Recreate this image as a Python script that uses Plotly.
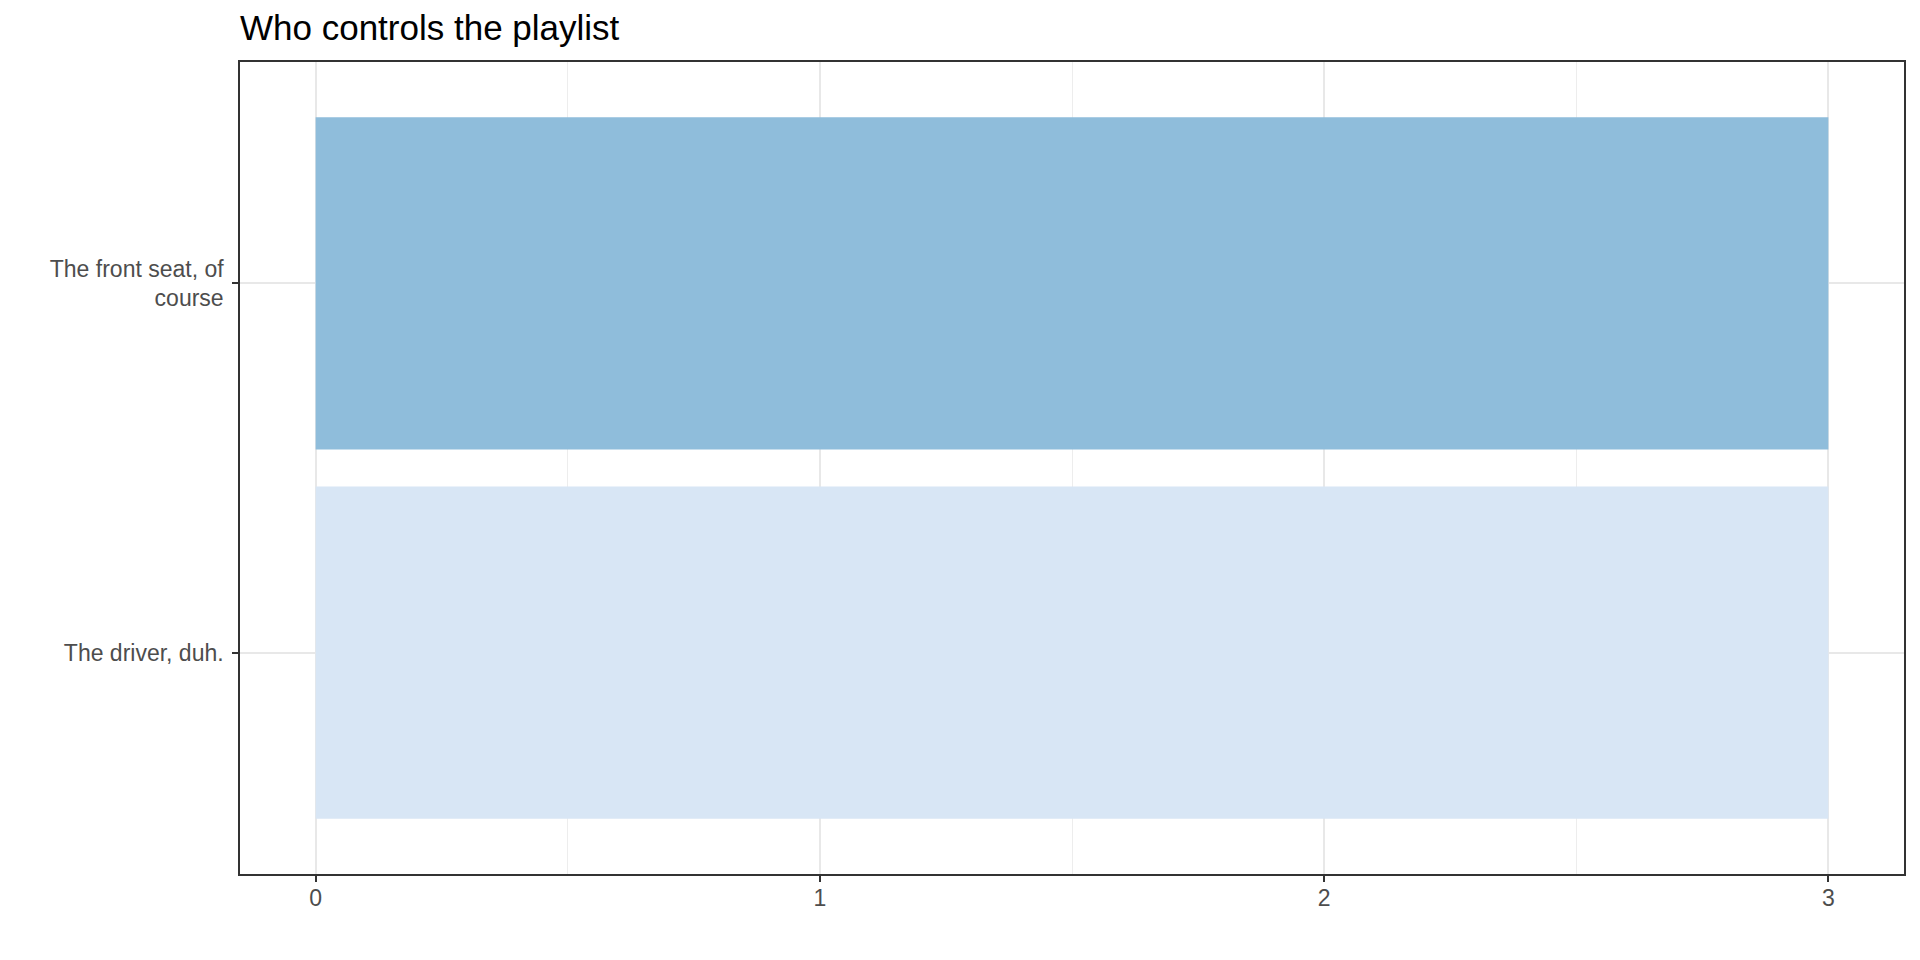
import plotly.graph_objects as go

categories = ["The driver, duh.", "The front seat, of<br>course"]
values = [3, 3]
colors = ["#D8E6F5", "#8FBDDB"]
title_text = "Who controls the playlist"
x_ticks = [0, 1, 2, 3]

# page body has an 8px default margin; compensate so the plot area lands at 240..1904 x 61..874
W, H = 1904, 944
fig = go.Figure()
fig.add_trace(go.Bar(
    x=values, y=categories, orientation="h",
    marker=dict(color=colors, line=dict(width=0)),
    width=0.9, showlegend=False,
))

font_family = "Liberation Sans, Arial, sans-serif"
fig.update_layout(
    width=W, height=H,
    paper_bgcolor="white", plot_bgcolor="white",
    margin=dict(l=232, r=8, t=54, b=78, autoexpand=False),
    font=dict(family=font_family, color="#4D4D4D"),
    title=dict(text=title_text, x=232/W, xanchor="left", xref="container",
               y=1-20/H, yanchor="middle", yref="container",
               font=dict(size=35, color="black", family=font_family)),
)
fig.update_xaxes(
    range=[-0.15, 3.15], tickvals=x_ticks, ticktext=[str(v) for v in x_ticks],
    showgrid=True, gridcolor="#E8E8E8", gridwidth=2,
    minor=dict(dtick=0.5, tick0=0, showgrid=True, gridcolor="#EDEDED", gridwidth=1.2, ticks=""),
    ticks="outside", ticklen=6, tickwidth=2, tickcolor="#333333",
    tickfont=dict(size=23, color="#4D4D4D"), ticklabelstandoff=-3,
    showline=True, linecolor="#333333", linewidth=1.5, mirror=True,
    zeroline=False,
)
fig.update_yaxes(
    range=[-0.6, 1.6], type="category",
    showgrid=True, gridcolor="#E8E8E8", gridwidth=2,
    ticks="outside", ticklen=6, tickwidth=2, tickcolor="#333333",
    tickfont=dict(size=23, color="#4D4D4D"), ticklabelstandoff=4,
    showline=True, linecolor="#333333", linewidth=1.5, mirror=True,
    zeroline=False,
)
fig.write_html("out.html")
